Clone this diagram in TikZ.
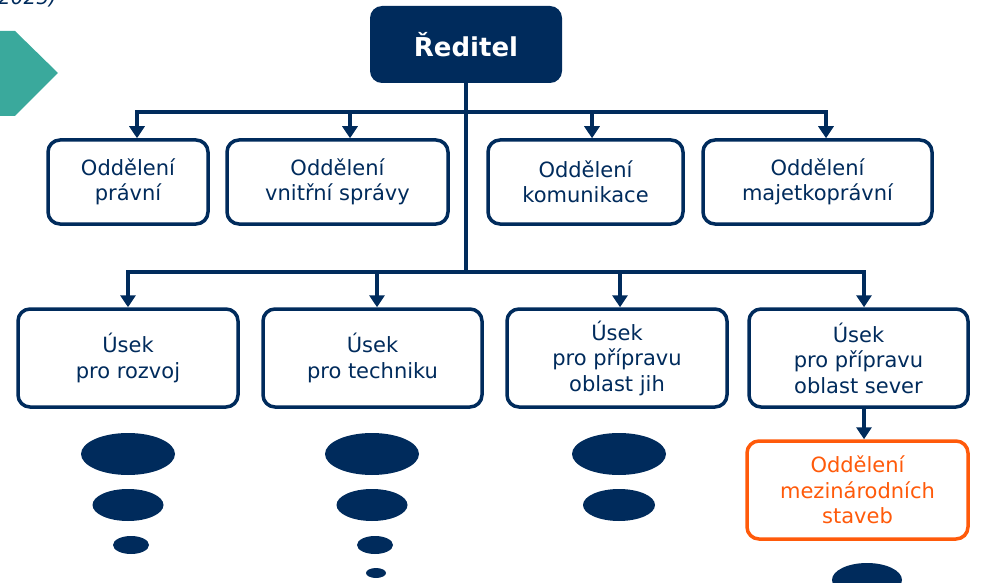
\documentclass[tikz,border=0pt]{standalone}
\usepackage{fontspec}
\setmainfont{DejaVu Sans}
\usetikzlibrary{arrows.meta}
\definecolor{navy}{HTML}{002B5C}
\definecolor{tealc}{HTML}{3AA99C}
\definecolor{orangec}{HTML}{FF5A0A}
\tikzset{
  box/.style={draw=navy, line width=3.5pt, rounded corners=12pt, fill=white,
    align=center, text=navy, font=\fontsize{21}{25.5}\selectfont, inner sep=0pt},
  orbox/.style={box, draw=orangec, text=orangec},
  conn/.style={draw=navy, line width=4pt, line cap=rect},
  arr/.style={draw=navy, line width=4pt, -{Triangle[width=15pt,length=12pt]}},
  blob/.style={fill=navy}
}
\begin{document}
\begin{tikzpicture}[x=1pt,y=-1pt]
\useasboundingbox (0,0) rectangle (986,583);

% top-left fragments
\fill[tealc] (-5,31) -- (15,31) -- (58,73) -- (15,116) -- (-5,116) -- cycle;
\node[anchor=base east, text=navy, font=\fontsize{20}{24}\selectfont\itshape, inner sep=0pt] (yr) at (57,4.5) {(2025)};

% director
\node[fill=navy, rounded corners=12pt, minimum width=192pt, minimum height=77pt, inner sep=0pt,
  text=white, font=\fontsize{26}{30}\selectfont\bfseries] (dir) at (466,44.5) {Ředitel};

% row 1
\node[box, minimum width=160pt, minimum height=84pt] (pr) at (128,182) {Oddělení\\právní};
\node[box, minimum width=221pt, minimum height=84pt] (vs) at (337.5,182) {Oddělení\\vnitřní správy};
\node[box, minimum width=195pt, minimum height=84pt] (ko) at (585.5,182) {Oddělení\\komunikace};
\node[box, minimum width=229pt, minimum height=84pt] (ma) at (817.5,182) {Oddělení\\majetkoprávní};

% row 2
\node[box, minimum width=220pt, minimum height=98pt] (ro) at (128,358) {Úsek\\pro rozvoj};
\node[box, minimum width=219pt, minimum height=98pt] (te) at (372.5,358) {Úsek\\pro techniku};
\node[box, minimum width=220pt, minimum height=98pt] (ji) at (617,358) {Úsek\\pro přípravu\\oblast jih};
\node[box, minimum width=219pt, minimum height=98pt] (se) at (858.5,358) {Úsek\\pro přípravu\\oblast sever};

% orange
\node[orbox, minimum width=221pt, minimum height=98pt] (ms) at (857.5,490) {Oddělení\\mezinárodních\\staveb};

% connector coordinates
\coordinate (a1) at (137,112);
\coordinate (a2) at (350,112);
\coordinate (a3) at (592,112);
\coordinate (a4) at (826,112);
\coordinate (b0) at (466,272);
\coordinate (b1) at (128,272);
\coordinate (b2) at (377,272);
\coordinate (b3) at (620,272);
\coordinate (b4) at (864,272);

\draw[conn] (dir.south) -- (b0);
\draw[conn] (a1) -- (a4);
\draw[conn] (b1) -- (b4);

\draw[arr] (a1) -- (a1 |- pr.north);
\draw[arr] (a2) -- (a2 |- vs.north);
\draw[arr] (a3) -- (a3 |- ko.north);
\draw[arr] (a4) -- (a4 |- ma.north);

\draw[arr] (b1) -- (b1 |- ro.north);
\draw[arr] (b2) -- (b2 |- te.north);
\draw[arr] (b3) -- (b3 |- ji.north);
\draw[arr] (b4) -- (b4 |- se.north);

\draw[arr] (b4 |- se.south) -- (b4 |- ms.north);

% blobs
\fill[blob] (128,454) ellipse [x radius=47, y radius=21];
\fill[blob] (128,505) ellipse [x radius=35.5, y radius=16];
\fill[blob] (131,545) ellipse [x radius=18, y radius=9];

\fill[blob] (372,454) ellipse [x radius=47, y radius=21];
\fill[blob] (372,505) ellipse [x radius=35.5, y radius=16];
\fill[blob] (375,545) ellipse [x radius=18, y radius=9];
\fill[blob] (376,573) ellipse [x radius=10, y radius=5];

\fill[blob] (619,454) ellipse [x radius=47, y radius=21];
\fill[blob] (619,505) ellipse [x radius=36, y radius=16];

\fill[blob] (867,580) ellipse [x radius=35, y radius=17];
\end{tikzpicture}
\end{document}
